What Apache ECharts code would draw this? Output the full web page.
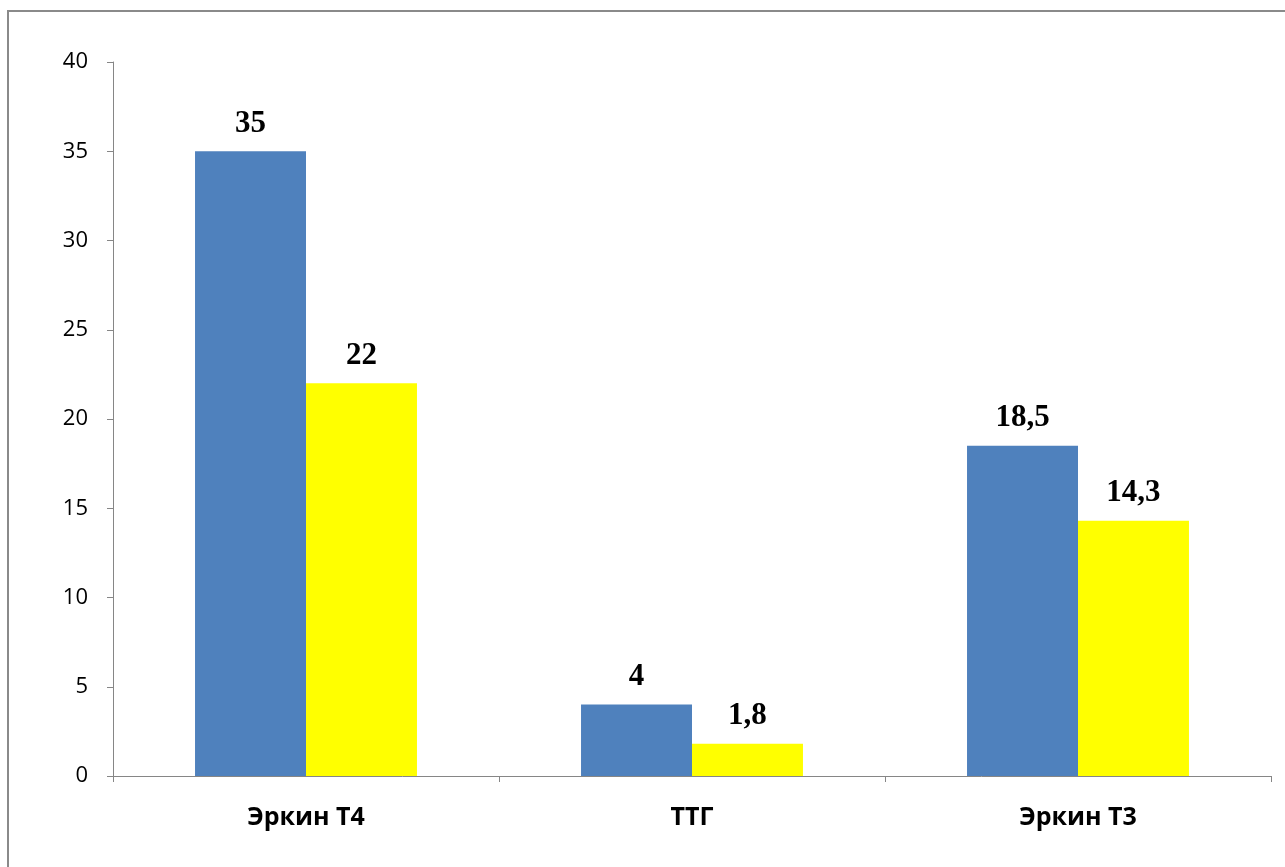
<!DOCTYPE html>
<html>
<head>
<meta charset="utf-8">
<script src="https://cdn.jsdelivr.net/npm/echarts@6/dist/echarts.min.js"></script>
<style>
  html, body { margin: 0; padding: 0; background: #fff; }
  #chart { width: 1285px; height: 867px; }
</style>
</head>
<body>
<div id="chart"></div>
<script>
// Hormone levels by assay
const categories = ['Эркин Т4', 'ТТГ', 'Эркин Т3'];
const seriesBlue = [35, 4, 18.5];
const seriesYellow = [22, 1.8, 14.3];
const yTicks = { min: 0, max: 40, interval: 5 };

const chart = echarts.init(document.getElementById('chart'));

const valueLabel = {
  show: true,
  position: 'top',
  distance: 12,
  fontFamily: '"Liberation Serif", "Times New Roman", serif',
  fontWeight: 'bold',
  fontSize: 31,
  color: '#000',
  formatter: p => String(p.value).replace('.', ',')
};

chart.setOption({
  animation: false,
  backgroundColor: '#fff',
  graphic: [{
    type: 'rect',
    shape: { x: 8, y: 11, width: 1400, height: 1000 },
    style: { fill: 'none', stroke: '#8a8a8a', lineWidth: 2 },
    silent: true
  }],
  grid: { left: 113, right: 14, top: 62, bottom: 91 },
  xAxis: {
    type: 'category',
    data: categories,
    axisLine: { lineStyle: { color: '#868686', width: 1 } },
    axisTick: { show: true, alignWithLabel: false, length: 6, lineStyle: { color: '#868686' } },
    axisLabel: {
      margin: 29,
      fontFamily: '"Open Sans", "Liberation Sans", sans-serif',
      fontWeight: 'bold',
      fontSize: 25,
      color: '#000'
    },
    splitLine: { show: false }
  },
  yAxis: {
    type: 'value',
    min: yTicks.min,
    max: yTicks.max,
    interval: yTicks.interval,
    axisLine: { show: true, lineStyle: { color: '#868686', width: 1 } },
    axisTick: { show: true, length: 6, lineStyle: { color: '#868686' } },
    axisLabel: {
      margin: 25,
      fontFamily: '"Open Sans", "Liberation Sans", sans-serif',
      fontSize: 22,
      color: '#000'
    },
    splitLine: { show: false }
  },
  series: [
    {
      type: 'bar',
      data: seriesBlue,
      barGap: '0%',
      barCategoryGap: '42.5%',
      itemStyle: { color: '#4F81BD' },
      label: valueLabel
    },
    {
      type: 'bar',
      data: seriesYellow,
      barGap: '0%',
      barCategoryGap: '42.5%',
      itemStyle: { color: '#FFFF00' },
      label: valueLabel
    }
  ]
});
</script>
</body>
</html>
